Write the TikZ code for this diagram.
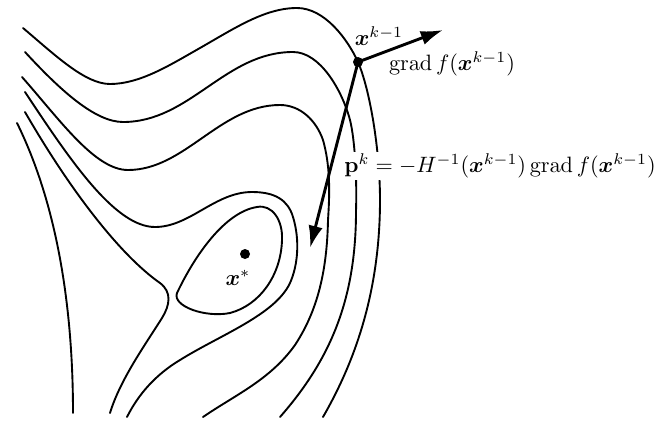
\documentclass[tikz,border=0pt]{standalone}
\usepackage{amsmath,bm}
\usetikzlibrary{arrows.meta}
\begin{document}
\begin{tikzpicture}[x=0.45pt,y=-0.45pt,
  contour/.style={line width=0.85pt, line cap=round},
  vec/.style={line width=1.3pt, -{Latex[length=10pt,width=6.5pt]}},
  dot/.style={circle, fill=black, inner sep=0pt, minimum size=4.5pt},
  lbl/.style={inner sep=1pt}]
\useasboundingbox (0,0) rectangle (657,422);
% contour A (through x^{k-1})
\draw[contour] (23,28) .. controls (55,55) and (85,84) .. (110,84)
  .. controls (140,84) and (170,65) .. (200,48)
  .. controls (235,28) and (265,8) .. (297,8)
  .. controls (325,8) and (348,40) .. (358,62)
  .. controls (370,90) and (380,150) .. (380,200)
  .. controls (380,300) and (350,370) .. (323,417);
% contour 2
\draw[contour] (25,52) .. controls (60,90) and (95,122) .. (123,122)
  .. controls (190,122) and (225,52) .. (293,52)
  .. controls (320,52) and (342,90) .. (350,120)
  .. controls (355,140) and (357,180) .. (356,211)
  .. controls (356,300) and (330,360) .. (280,417);
% contour 3
\draw[contour] (22,77) .. controls (60,120) and (95,170) .. (128,170)
  .. controls (185,170) and (220,105) .. (280,105)
  .. controls (300,105) and (316,120) .. (323,140)
  .. controls (330,165) and (330,190) .. (328,220)
  .. controls (327,270) and (318,310) .. (295,345)
  .. controls (270,380) and (235,395) .. (203,417);
% contour 4
\draw[contour] (25,92) .. controls (70,160) and (115,227) .. (155,227)
  .. controls (190,227) and (215,192) .. (252,192)
  .. controls (275,192) and (288,200) .. (293,217)
  .. controls (300,240) and (298,265) .. (290,283)
  .. controls (275,315) and (220,335) .. (180,360)
  .. controls (155,375) and (138,395) .. (127,417);
% contour 5
\draw[contour] (25,112) .. controls (70,190) and (120,255) .. (160,283)
  .. controls (172,292) and (170,305) .. (162,318)
  .. controls (145,345) and (120,380) .. (110,413);
% contour 6
\draw[contour] (17,123) .. controls (55,200) and (73,300) .. (73,413);
% inner loop
\draw[contour] (177,293) .. controls (195,255) and (225,212) .. (257,207)
  .. controls (272,204) and (283,220) .. (282,240)
  .. controls (281,275) and (260,305) .. (230,313)
  .. controls (205,318) and (172,306) .. (177,293) -- cycle;
% points
\node[dot] (xk) at (358,62) {};
\node[dot] (xs) at (245,254) {};
\coordinate (gtip) at (443,30);
\coordinate (ptip) at (310,248);
\draw[vec] (xk.center) -- (gtip);
\draw[vec] (xk.center) -- (ptip);
% labels
\node[lbl] (lxk) at (379,36) {$\bm{x}^{k-1}$};
\node[lbl] (lgrad) at (452,64) {$\operatorname{grad} f(\bm{x}^{k-1})$};
\node[lbl,fill=white] (lp) at (500,166) {$\mathbf{p}^k = -H^{-1}(\bm{x}^{k-1})\operatorname{grad} f(\bm{x}^{k-1})$};
\node[lbl] (lxs) at (238,278) {$\bm{x}^*$};
\end{tikzpicture}
\end{document}
